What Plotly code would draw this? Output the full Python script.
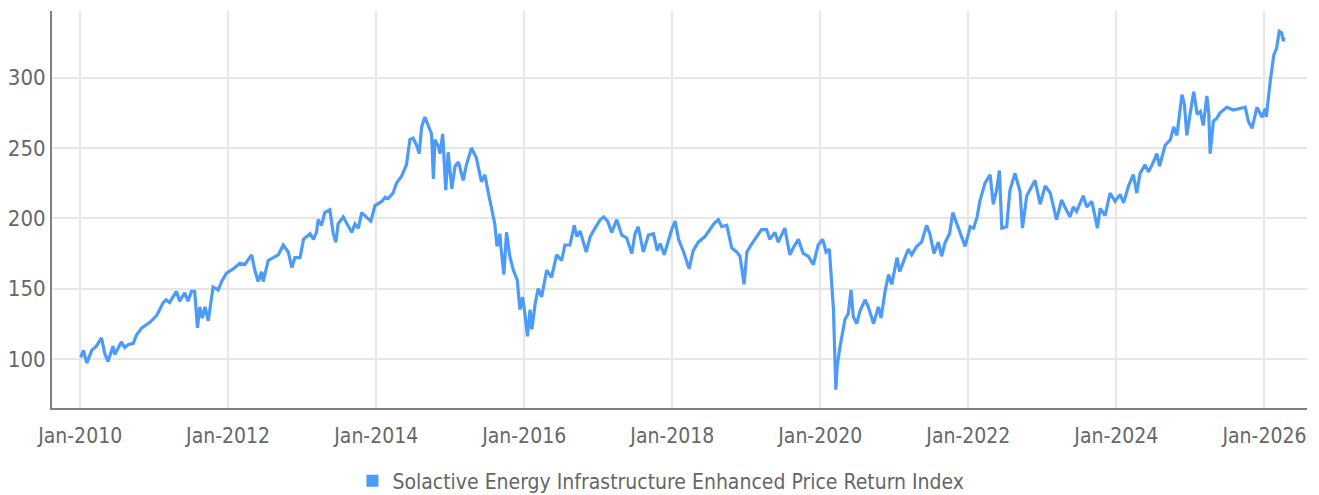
import plotly.graph_objects as go

series_name = "Solactive Energy Infrastructure Enhanced Price Return Index"

dates = [
    "2010-01-04", "2010-01-17", "2010-02-03", "2010-02-27", "2010-03-22", "2010-04-16", "2010-05-02", "2010-05-18",
    "2010-06-12", "2010-06-21", "2010-07-23", "2010-08-09", "2010-08-25", "2010-09-20", "2010-10-06", "2010-11-01",
    "2010-12-11", "2011-01-14", "2011-02-15", "2011-03-02", "2011-03-18", "2011-04-21", "2011-05-07", "2011-06-01",
    "2011-06-17", "2011-07-04", "2011-07-20", "2011-07-28", "2011-08-03", "2011-08-14", "2011-08-27", "2011-09-09",
    "2011-09-25", "2011-10-19", "2011-11-13", "2011-11-30", "2011-12-24", "2012-01-26", "2012-02-28", "2012-03-23",
    "2012-04-26", "2012-05-12", "2012-05-28", "2012-06-14", "2012-06-22", "2012-07-17", "2012-08-11", "2012-09-05",
    "2012-09-29", "2012-10-24", "2012-11-10", "2012-11-26", "2012-12-21", "2013-01-07", "2013-02-09", "2013-02-25",
    "2013-03-12", "2013-03-20", "2013-04-06", "2013-04-22", "2013-05-17", "2013-06-03", "2013-06-16", "2013-06-27",
    "2013-07-22", "2013-08-16", "2013-09-02", "2013-09-18", "2013-10-05", "2013-10-21", "2013-11-15", "2013-12-05",
    "2013-12-26", "2014-01-28", "2014-02-14", "2014-03-01", "2014-03-25", "2014-04-11", "2014-05-06", "2014-05-30",
    "2014-06-16", "2014-07-02", "2014-07-19", "2014-08-01", "2014-08-13", "2014-08-29", "2014-09-15", "2014-10-01",
    "2014-10-10", "2014-10-18", "2014-11-04", "2014-11-12", "2014-11-25", "2014-12-10", "2014-12-22", "2015-01-09",
    "2015-01-25", "2015-02-11", "2015-03-06", "2015-03-22", "2015-04-16", "2015-05-10", "2015-06-04", "2015-06-21",
    "2015-07-07", "2015-07-23", "2015-08-09", "2015-08-20", "2015-09-03", "2015-09-08", "2015-09-23", "2015-10-06",
    "2015-10-22", "2015-11-09", "2015-11-28", "2015-12-11", "2015-12-24", "2016-01-05", "2016-01-17", "2016-01-30",
    "2016-02-08", "2016-02-24", "2016-03-10", "2016-03-27", "2016-04-21", "2016-05-15", "2016-06-09", "2016-07-04",
    "2016-07-20", "2016-08-14", "2016-09-04", "2016-09-17", "2016-10-03", "2016-11-02", "2016-11-22", "2016-12-16",
    "2017-01-10", "2017-01-27", "2017-02-16", "2017-03-08", "2017-04-02", "2017-04-27", "2017-05-21", "2017-06-15",
    "2017-07-01", "2017-07-17", "2017-08-11", "2017-09-05", "2017-09-30", "2017-10-19", "2017-11-02", "2017-11-22",
    "2017-12-06", "2017-12-29", "2018-01-15", "2018-02-01", "2018-02-26", "2018-03-25", "2018-04-14", "2018-05-09",
    "2018-06-11", "2018-07-06", "2018-07-25", "2018-08-16", "2018-09-02", "2018-09-27", "2018-10-21", "2018-11-15",
    "2018-12-01", "2018-12-21", "2019-01-04", "2019-01-29", "2019-02-22", "2019-03-17", "2019-04-11", "2019-04-27",
    "2019-05-22", "2019-06-08", "2019-07-10", "2019-08-04", "2019-08-21", "2019-09-15", "2019-10-09", "2019-11-03",
    "2019-11-28", "2019-12-22", "2020-01-13", "2020-01-30", "2020-02-15", "2020-02-27", "2020-03-06", "2020-03-18",
    "2020-03-25", "2020-04-08", "2020-04-20", "2020-05-02", "2020-05-18", "2020-06-01", "2020-06-12", "2020-06-29",
    "2020-07-15", "2020-08-09", "2020-08-25", "2020-09-20", "2020-10-14", "2020-10-27", "2020-11-16", "2020-12-03",
    "2020-12-19", "2021-01-14", "2021-01-27", "2021-02-16", "2021-03-10", "2021-03-27", "2021-04-21", "2021-05-15",
    "2021-06-09", "2021-06-25", "2021-07-15", "2021-08-06", "2021-08-22", "2021-09-09", "2021-09-30", "2021-10-16",
    "2021-11-05", "2021-11-30", "2021-12-16", "2022-01-10", "2022-01-27", "2022-02-13", "2022-02-28", "2022-03-24",
    "2022-04-18", "2022-05-04", "2022-05-20", "2022-06-03", "2022-06-15", "2022-07-09", "2022-07-25", "2022-08-19",
    "2022-09-13", "2022-09-25", "2022-10-16", "2022-11-26", "2022-12-21", "2023-01-15", "2023-02-09", "2023-03-12",
    "2023-04-06", "2023-04-22", "2023-05-17", "2023-06-03", "2023-06-19", "2023-07-22", "2023-08-08", "2023-09-02",
    "2023-09-30", "2023-10-13", "2023-11-07", "2023-12-01", "2023-12-26", "2024-01-20", "2024-02-06", "2024-03-01",
    "2024-03-25", "2024-04-11", "2024-04-27", "2024-05-22", "2024-06-08", "2024-07-02", "2024-07-19", "2024-08-01",
    "2024-08-21", "2024-08-29", "2024-09-24", "2024-10-10", "2024-10-26", "2024-11-20", "2024-12-02", "2024-12-14",
    "2025-01-01", "2025-01-17", "2025-02-03", "2025-02-19", "2025-03-05", "2025-03-23", "2025-04-01", "2025-04-08",
    "2025-04-24", "2025-05-10", "2025-05-27", "2025-06-29", "2025-08-01", "2025-08-26", "2025-09-28", "2025-10-14",
    "2025-11-01", "2025-11-25", "2025-12-20", "2026-01-05", "2026-01-10", "2026-01-30", "2026-02-08", "2026-02-16",
    "2026-03-02", "2026-03-15", "2026-03-27", "2026-04-04", "2026-04-07",
]

index_values = [
    101, 106, 97, 106, 109, 115, 104, 98,
    109, 103, 112, 108, 110, 111, 117, 122,
    126, 131, 140, 142, 140, 148, 141, 147,
    141, 148, 148, 135, 122, 137, 129, 137,
    127, 151, 149, 155, 161, 164, 168, 167,
    174, 163, 155, 162, 155, 170, 172, 174,
    181, 176, 165, 172, 172, 185, 189, 185,
    190, 199, 195, 204, 206, 189, 183, 196,
    201, 194, 190, 196, 193, 204, 201, 198,
    209, 212, 215, 214, 218, 225, 230, 238,
    256, 257, 252, 246, 265, 272, 266, 260,
    228, 256, 251, 246, 260, 220, 247, 221,
    237, 240, 227, 238, 250, 243, 226, 231,
    219, 208, 196, 180, 189, 180, 160, 190,
    173, 163, 156, 135, 144, 132, 116, 135,
    121, 139, 150, 144, 163, 158, 174, 170,
    181, 181, 195, 187, 191, 176, 187, 193,
    199, 201, 198, 190, 199, 188, 186, 175,
    189, 194, 176, 188, 189, 177, 182, 174,
    181, 192, 198, 185, 176, 164, 177, 183,
    187, 192, 196, 199, 194, 195, 179, 176,
    173, 153, 176, 182, 187, 192, 192, 185,
    190, 183, 193, 174, 179, 185, 175, 173,
    167, 181, 185, 176, 178, 156, 136, 78,
    95, 109, 118, 128, 132, 149, 130, 125,
    134, 142, 137, 125, 137, 129, 148, 160,
    153, 172, 162, 169, 178, 174, 180, 183,
    195, 189, 175, 183, 173, 183, 189, 204,
    196, 186, 180, 194, 193, 201, 213, 225,
    231, 210, 220, 234, 193, 194, 220, 232,
    219, 193, 216, 227, 210, 223, 218, 199,
    213, 208, 201, 208, 205, 216, 208, 212,
    193, 207, 202, 218, 212, 217, 211, 223,
    231, 218, 232, 238, 233, 240, 246, 237,
    249, 252, 256, 265, 259, 288, 281, 259,
    276, 290, 274, 276, 266, 287, 275, 246,
    269, 271, 275, 279, 277, 278, 279, 269,
    264, 279, 272, 278, 272, 298, 308, 316,
    321, 333, 332, 326, 329,
]

y_ticks = [100, 150, 200, 250, 300]

LINE_COLOR = "#4d9bf9"
TEXT_COLOR = "#666666"
FONT = "DejaVu Sans Condensed, Liberation Sans Narrow, Liberation Sans, sans-serif"

fig = go.Figure()
fig.add_trace(go.Scatter(
    x=dates, y=index_values, mode="lines",
    line=dict(color=LINE_COLOR, width=3.2),
    name=series_name, showlegend=False,
))
fig.add_trace(go.Scatter(
    x=[None], y=[None], mode="markers",
    marker=dict(symbol="square", size=12, color=LINE_COLOR),
    name=series_name, showlegend=True,
))

# page has an 8px body margin, so the figure is sized to fit the 1319x495 window
fig.update_layout(
    width=1311, height=487,
    margin=dict(l=44, r=12, t=3, b=87, autoexpand=False),
    paper_bgcolor="white", plot_bgcolor="white",
    font=dict(family=FONT, size=21, color=TEXT_COLOR),
    showlegend=True,
    legend=dict(orientation="h", x=0.2394, xanchor="left", y=-0.184, yanchor="middle",
                font=dict(size=21, color=TEXT_COLOR), itemwidth=30),
)
fig.update_xaxes(
    type="date", range=["2009-08-15", "2026-07-30"],
    tick0="2010-01-01", dtick="M24", tickformat="%b-%Y",
    showgrid=True, gridcolor="#e6e6e6", gridwidth=2,
    showline=True, linecolor="#808080", linewidth=2,
    ticks="", zeroline=False, automargin=False, ticklabelstandoff=8,
)
fig.update_yaxes(
    range=[65, 347.5], tickvals=y_ticks,
    showgrid=True, gridcolor="#e6e6e6", gridwidth=2,
    showline=True, linecolor="#808080", linewidth=2,
    ticks="", zeroline=False, automargin=False, ticklabelstandoff=0,
    tickfont=dict(size=22),
)

fig.write_html("out.html")
